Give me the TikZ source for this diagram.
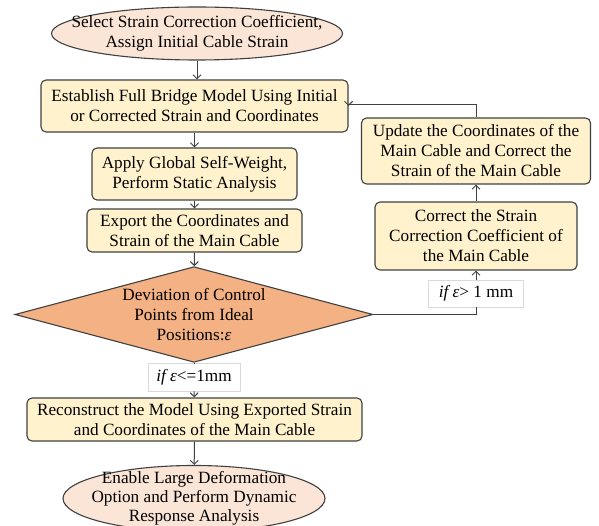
\documentclass[tikz,border=0pt]{standalone}
\usepackage{fontspec}
\setmainfont{Liberation Serif}
\usetikzlibrary{shapes.geometric,arrows.meta,positioning}
\definecolor{linegray}{HTML}{404040}
\definecolor{condgray}{HTML}{D9D9D9}
\definecolor{termfill}{HTML}{FBE5D6}
\definecolor{procfill}{HTML}{FFF2CC}
\definecolor{decfill}{HTML}{F4B183}

\begin{document}
\begin{tikzpicture}[x=1pt,y=-1pt,font=\fontsize{17.2}{20}\selectfont,
  term/.style={ellipse,draw=linegray,fill=termfill,align=center,inner xsep=-40pt,inner ysep=-8pt,line width=1.1pt},
  proc/.style={rectangle,rounded corners=5pt,draw=linegray,fill=procfill,align=center,inner xsep=1pt,inner ysep=0pt,line width=1.1pt},
  dec/.style={diamond,draw=linegray,fill=decfill,align=center,inner sep=-25pt,line width=1.1pt},
  cond/.style={rectangle,draw=condgray,fill=white,inner sep=1pt,line width=0.8pt},
  link/.style={draw=linegray,line width=1pt},
  flow/.style={link,-{Straight Barb[length=4pt,width=8pt]}}]
\useasboundingbox (0,0) rectangle (599,526);
\node[term,minimum width=291pt,minimum height=53pt] (Sel) at (197,33.5) {Select Strain Correction Coefficient,\\Assign Initial Cable Strain};
\node[proc,minimum width=307pt,minimum height=52pt] (Est) at (194.5,106) {Establish Full Bridge Model Using Initial\\or Corrected Strain and Coordinates};
\node[proc,minimum width=205pt,minimum height=52pt] (App) at (194.5,174) {Apply Global Self-Weight,\\Perform Static Analysis};
\node[proc,minimum width=215pt,minimum height=43pt] (Exp) at (194.5,230.5) {Export the Coordinates and\\Strain of the Main Cable};
\node[dec,minimum width=358pt,minimum height=91pt] (Dev) at (194,314.5) {Deviation of Control\\Points from Ideal\\Positions:\textit{ε}};
\node[cond,minimum width=92pt,minimum height=28pt] (Le) at (194,377) {\textit{if ε}<=1mm};
\node[proc,minimum width=335pt,minimum height=43pt] (Rec) at (194.5,419.5) {Reconstruct the Model Using Exported Strain\\and Coordinates of the Main Cable};
\node[term,minimum width=262pt,minimum height=66pt,font=\fontsize{17.2}{19}\selectfont] (End) at (194,498.5) {Enable Large Deformation\\Option and Perform Dynamic\\Response Analysis};
\node[cond,minimum width=95pt,minimum height=27pt] (Gt) at (476,293.5) {\textit{if ε}> 1 mm};
\node[proc,minimum width=202pt,minimum height=68pt] (Cor) at (476,236) {Correct the Strain\\Correction Coefficient of\\the Main Cable};
\node[proc,minimum width=229pt,minimum height=66pt] (Upd) at (476,151) {Update the Coordinates of the\\Main Cable and Correct the\\Strain of the Main Cable};
\draw[flow] (Sel.south) -- (Sel.south |- Est.north);
\draw[flow] (Est) -- (App);
\draw[flow] (App) -- (Exp);
\draw[flow] (Exp) -- (Dev);
\draw[link] (Dev.south) -- (Le.north);
\draw[flow] (Le) -- (Rec);
\draw[flow] (Rec) -- (End);
\draw[link] (Dev.east) -| (Gt.south);
\draw[flow] (Gt) -- (Cor);
\draw[flow] (Cor) -- (Upd);
\draw[flow] (Upd.north) -- ++(0,-13) -| (Est.east);
\end{tikzpicture}
\end{document}
